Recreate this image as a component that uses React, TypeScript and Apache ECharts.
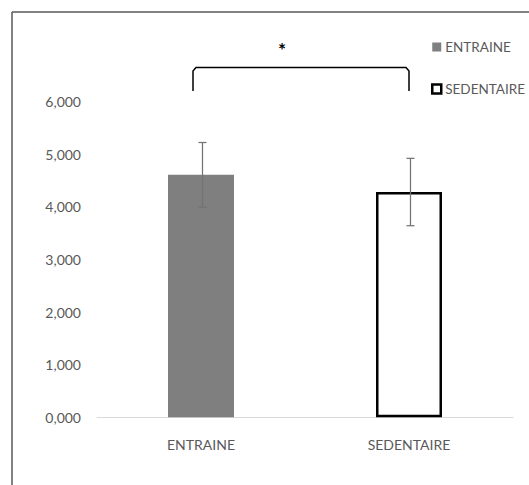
import React, { useEffect, useRef } from "react";
import * as echarts from "echarts";

const categories = ["ENTRAINE", "SEDENTAIRE"];
const means = [4.606, 4.28];
const errors = [0.615, 0.64];
const yTicks = [0, 1, 2, 3, 4, 5, 6];

const FONT = "Lato, 'Open Sans', sans-serif";
const TEXT = "#595959";
const FS = 14;

export default function App() {
  const ref = useRef<HTMLDivElement>(null);
  useEffect(() => {
    if (!ref.current) return;
    const chart = echarts.init(ref.current, undefined, { renderer: "svg" });
    const errData = categories.map((c, i) => [i, means[i] - errors[i], means[i] + errors[i]]);
    chart.setOption({
      animation: false,
      backgroundColor: "#ffffff",
      textStyle: { fontFamily: FONT },
      grid: { left: 97, right: 16, top: 101.5, bottom: 67.7, containLabel: false },
      legend: {
        orient: "vertical",
        left: 426,
        top: 35,
        itemWidth: 9,
        itemHeight: 9,
        itemGap: 28,
        textStyle: { color: TEXT, fontSize: 13.5, fontFamily: FONT, padding: [0, 0, 0, -1] },
        data: [
          { name: "ENTRAINE", icon: "rect", itemStyle: { color: "#7f7f7f", borderWidth: 0 } },
          { name: "SEDENTAIRE", icon: "rect", itemStyle: { color: "#ffffff", borderColor: "#000000", borderWidth: 2.5 } },
        ],
      },
      xAxis: {
        type: "category",
        data: categories,
        axisLine: { show: true, lineStyle: { color: "#d9d9d9", width: 1 } },
        axisTick: { show: false },
        axisLabel: { color: TEXT, fontSize: FS, margin: 20, fontFamily: FONT },
      },
      yAxis: {
        type: "value",
        min: yTicks[0],
        max: yTicks[yTicks.length - 1],
        interval: 1,
        axisLine: { show: false },
        axisTick: { show: false },
        splitLine: { show: false },
        axisLabel: {
          color: TEXT,
          fontSize: FS,
          margin: 16,
          fontFamily: FONT,
          formatter: (v: number) => v.toFixed(3).replace(".", ","),
        },
      },
      series: [
        {
          name: "ENTRAINE",
          type: "bar",
          stack: "s",
          barWidth: 66,
          data: [means[0], "-"],
          itemStyle: { color: "#7f7f7f" },
        },
        {
          name: "SEDENTAIRE",
          type: "bar",
          stack: "s",
          barWidth: 66,
          data: ["-", means[1]],
          itemStyle: { color: "#ffffff", borderColor: "#000000", borderWidth: 2.5 },
        },
        {
          type: "custom",
          name: "err",
          data: errData,
          z: 10,
          renderItem: (params: any, api: any) => {
            const x = api.value(0);
            const lo = api.coord([x, api.value(1)]);
            const hi = api.coord([x, api.value(2)]);
            const cx = Math.round(lo[0]) + 1.5;
            const half = 4;
            const style = { stroke: "#737373", lineWidth: 1.25 };
            return {
              type: "group",
              children: [
                { type: "line", shape: { x1: cx, y1: lo[1], x2: cx, y2: hi[1] }, style },
                { type: "line", shape: { x1: cx - half, y1: lo[1], x2: cx + half, y2: lo[1] }, style },
                { type: "line", shape: { x1: cx - half, y1: hi[1], x2: cx + half, y2: hi[1] }, style },
              ],
            };
          },
        },
      ],
      graphic: [
        { type: "line", shape: { x1: 12, y1: 12, x2: 529, y2: 12 }, style: { stroke: "#595959", lineWidth: 1.5 } },
        { type: "line", shape: { x1: 12, y1: 12, x2: 12, y2: 485 }, style: { stroke: "#595959", lineWidth: 1.5 } },
        {
          type: "polyline",
          shape: {
            points: [
              [193, 91],
              [193, 71],
              [196, 67.5],
              [406, 67.5],
              [409, 71],
              [409, 91],
            ],
          },
          style: { stroke: "#000000", lineWidth: 1.5, fill: null },
        },
        {
          type: "text",
          x: 282,
          y: 49,
          style: { text: "*", fill: "#000000", font: "bold 19px " + FONT, textAlign: "center", textVerticalAlign: "middle" },
        },
      ],
    });
    return () => chart.dispose();
  }, []);
  return <div ref={ref} style={{ position: "fixed", left: 0, top: 0, width: 529, height: 485 }} />;
}
